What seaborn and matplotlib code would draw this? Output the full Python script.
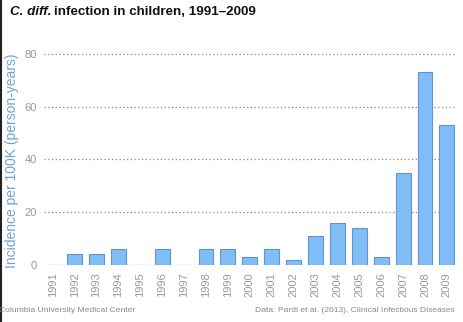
import matplotlib
matplotlib.use("Agg")
import matplotlib.pyplot as plt
from matplotlib.lines import Line2D
import seaborn as sns
import pandas as pd

years = [str(y) for y in range(1991, 2010)]
incidence = [0, 4, 4, 6, 0, 6, 0, 6, 6, 3, 6, 2, 11, 16, 14, 3, 35, 73, 53]
yticks = [0, 20, 40, 60, 80]

df = pd.DataFrame({"year": years, "incidence": incidence})

sns.set_theme(style="white")
plt.rcParams["font.family"] = ["Liberation Sans", "DejaVu Sans"]

W, H = 464, 322
fig = plt.figure(figsize=(W / 100, H / 100), dpi=100)
ax = fig.add_axes([44 / W, 1 - 265 / H, 411 / W, 216.5 / H])

sns.barplot(data=df, x="year", y="incidence", ax=ax, color="#80bdf7",
            saturation=1, width=0.68, edgecolor="#5f94cc", linewidth=0.8, zorder=3)

ax.set_ylim(0, 82)
ax.set_xlim(-0.4, 18.37)
ax.set_yticks(yticks)
ax.yaxis.grid(True, linestyle=(0, (1, 2)), color="#888888", linewidth=0.9, zorder=0)
ax.set_axisbelow(True)
for s in ax.spines.values():
    s.set_visible(False)
ax.tick_params(axis="both", length=0, labelsize=8, labelcolor="#999999")
ax.tick_params(axis="y", pad=5)
ax.tick_params(axis="x", pad=5)
plt.setp(ax.get_xticklabels(), rotation=90)
ax.set_xlabel("")
ax.set_ylabel("Incidence per 100K (person-years)", color="#6fa2d4", fontsize=10)
ax.yaxis.set_label_coords((19 - 44) / 411, 0.48)

# left edge frame line (as in the reference screenshot)
fig.add_artist(Line2D([1 / W, 1 / W], [0, 1], color="#222222", linewidth=1.5,
                      transform=fig.transFigure))

# title
t1 = fig.text(10 / W, 1 - 12 / H, "C. diff.", fontsize=9.6, fontweight="bold",
              fontstyle="italic", va="center", ha="left", color="#111111")
fig.canvas.draw()
bb = t1.get_window_extent()
fig.text((bb.x1 + 3) / W, 1 - 12 / H, "infection in children, 1991\u20132009", fontsize=9.6,
         fontweight="bold", va="center", ha="left", color="#111111")

fig.text(-1 / W, 1 - 311 / H, "Columbia University Medical Center", fontsize=6.1,
         color="#888888", va="center", ha="left")
fig.text(455 / W, 1 - 311 / H, "Data: Pardi et al. (2013), Clinical Infectious Diseases",
         fontsize=6.1, color="#888888", va="center", ha="right")

fig.savefig("out.png", dpi=100)
